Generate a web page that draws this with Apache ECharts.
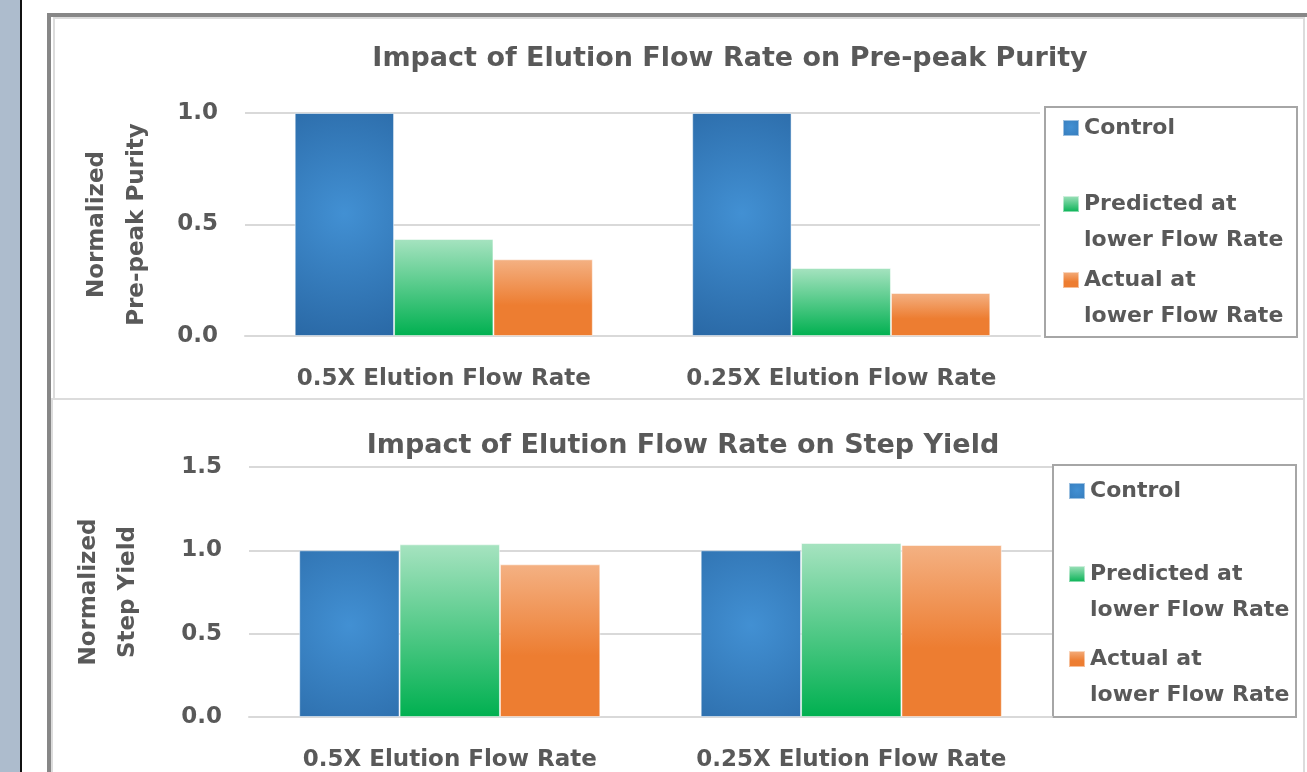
<!DOCTYPE html>
<html><head><meta charset="utf-8">
<script src="https://cdn.jsdelivr.net/npm/echarts@6/dist/echarts.min.js"></script>
<style>html,body{margin:0;padding:0;background:#fff}#c{width:1307px;height:772px}</style>
</head><body><div id="c"></div>
<script>
const categories = ['0.5X Elution Flow Rate', '0.25X Elution Flow Rate'];
const seriesNames = ['Control', 'Predicted at\nlower Flow Rate', 'Actual at\nlower Flow Rate'];
const purityControl = [1.0, 1.0];
const purityPredicted = [0.435, 0.305];
const purityActual = [0.344, 0.193];
const yieldControl = [1.0, 1.0];
const yieldPredicted = [1.036, 1.044];
const yieldActual = [0.916, 1.032];
const purityTicks = [0.0, 0.5, 1.0];
const yieldTicks = [0.0, 0.5, 1.0, 1.5];

const FONT = 'DejaVu Sans';
const TXT = '#595959';
const W = 'bold';

const blueFill = {type:'radial', x:0.5, y:0.45, r:1.3, colorStops:[{offset:0,color:'#4290D3'},{offset:1,color:'#2A69A6'}]};
const greenFill = {type:'linear', x:0, y:0, x2:0, y2:1, colorStops:[{offset:0,color:'#A6E3C0'},{offset:1,color:'#00B050'}]};
const orangeFill = {type:'linear', x:0, y:0, x2:0, y2:1, colorStops:[{offset:0,color:'#F4B183'},{offset:0.6,color:'#ED7D31'},{offset:1,color:'#ED7D31'}]};
const fills = [blueFill, greenFill, orangeFill];

function bars(idx, arrs) {
  return arrs.map((d, i) => ({
    name: seriesNames[i], type: 'bar', xAxisIndex: idx, yAxisIndex: idx,
    data: d, barGap: '0%', barCategoryGap: '25%',
    itemStyle: {color: fills[i], borderColor: 'rgba(255,255,255,0.5)', borderWidth: 1},
    emphasis: {disabled: true}
  }));
}

const axisLabelStyle = {color: TXT, fontFamily: FONT, fontWeight: W, fontSize: 23};

function legendItem(name, left, top, twoLine) {
  return {
    left: left, top: top, padding: 0, orient: 'vertical', data: [name], itemWidth: 16, itemHeight: 16,
    icon: 'rect', selectedMode: false, itemGap: 0,
    formatter: twoLine ? (n => ' \n' + n) : (n => n),
    textStyle: {color: TXT, fontFamily: FONT, fontWeight: W, fontSize: 22, lineHeight: 36}
  };
}

const option = {
  animation: false,
  backgroundColor: '#fff',
  title: [
    {text: 'Impact of Elution Flow Rate on Pre-peak Purity', left: 725, top: 40, textAlign: 'center',
     textStyle: {color: TXT, fontFamily: FONT, fontWeight: W, fontSize: 27}},
    {text: 'Impact of Elution Flow Rate on Step Yield', left: 678, top: 427, textAlign: 'center',
     textStyle: {color: TXT, fontFamily: FONT, fontWeight: W, fontSize: 27}}
  ],
  grid: [
    {left: 245, right: 267, top: 113, height: 223},
    {left: 249, right: 255, top: 467, height: 250}
  ],
  xAxis: [0, 1].map(i => ({
    type: 'category', gridIndex: i, data: categories,
    axisLine: {show: true, lineStyle: {color: '#D9D9D9', width: 2}},
    axisTick: {show: false},
    axisLabel: Object.assign({margin: 32, interval: 0}, axisLabelStyle)
  })),
  yAxis: [
    {type: 'value', gridIndex: 0, min: purityTicks[0], max: purityTicks[purityTicks.length-1], interval: 0.5,
     name: 'Normalized\nPre-peak Purity', nameLocation: 'middle', nameGap: 88, nameRotate: 90,
     nameTextStyle: {color: TXT, fontFamily: FONT, fontWeight: W, fontSize: 23, lineHeight: 40},
     axisLine: {show: false}, axisTick: {show: false},
     splitLine: {lineStyle: {color: '#D9D9D9', width: 2}},
     axisLabel: Object.assign({margin: 27, formatter: v => v.toFixed(1)}, axisLabelStyle)},
    {type: 'value', gridIndex: 1, min: yieldTicks[0], max: yieldTicks[yieldTicks.length-1], interval: 0.5,
     name: 'Normalized\nStep Yield', nameLocation: 'middle', nameGap: 101, nameRotate: 90,
     nameTextStyle: {color: TXT, fontFamily: FONT, fontWeight: W, fontSize: 23, lineHeight: 39},
     axisLine: {show: false}, axisTick: {show: false},
     splitLine: {lineStyle: {color: '#D9D9D9', width: 2}},
     axisLabel: Object.assign({margin: 27, formatter: v => v.toFixed(1)}, axisLabelStyle)}
  ],
  legend: [
    legendItem(seriesNames[0], 1062, 110, false),
    legendItem(seriesNames[1], 1062, 150, true),
    legendItem(seriesNames[2], 1062, 226, true),
    legendItem(seriesNames[0], 1068, 473, false),
    legendItem(seriesNames[1], 1068, 520, true),
    legendItem(seriesNames[2], 1068, 605, true)
  ],
  series: [
    ...bars(0, [purityControl, purityPredicted, purityActual]),
    ...bars(1, [yieldControl, yieldPredicted, yieldActual])
  ],
  graphic: [
    {type: 'rect', shape: {x: 0, y: 0, width: 20, height: 772}, style: {fill: '#ADBCCD'}, silent: true},
    {type: 'rect', shape: {x: 20, y: 0, width: 2, height: 772}, style: {fill: '#111'}, silent: true},
    {type: 'rect', shape: {x: 47, y: 13, width: 4, height: 772}, style: {fill: '#878787'}, silent: true},
    {type: 'rect', shape: {x: 47, y: 13, width: 1260, height: 4}, style: {fill: '#878787'}, silent: true},
    {type: 'rect', shape: {x: 54, y: 18, width: 1250, height: 381}, style: {fill: 'none', stroke: '#DCDCDC', lineWidth: 2}, silent: true, z: -1},
    {type: 'rect', shape: {x: 52, y: 399, width: 1252, height: 400}, style: {fill: 'none', stroke: '#DCDCDC', lineWidth: 2}, silent: true, z: -1},
    {type: 'rect', shape: {x: 1045, y: 107, width: 252, height: 230}, style: {fill: '#fff', stroke: '#A6A6A6', lineWidth: 2}, silent: true, z: 0},
    {type: 'rect', shape: {x: 1053, y: 465, width: 243, height: 252}, style: {fill: '#fff', stroke: '#A6A6A6', lineWidth: 2}, silent: true, z: 0}
  ]
};
const chart = echarts.init(document.getElementById('c'), null, {renderer: 'canvas'});
chart.setOption(option);
</script></body></html>
